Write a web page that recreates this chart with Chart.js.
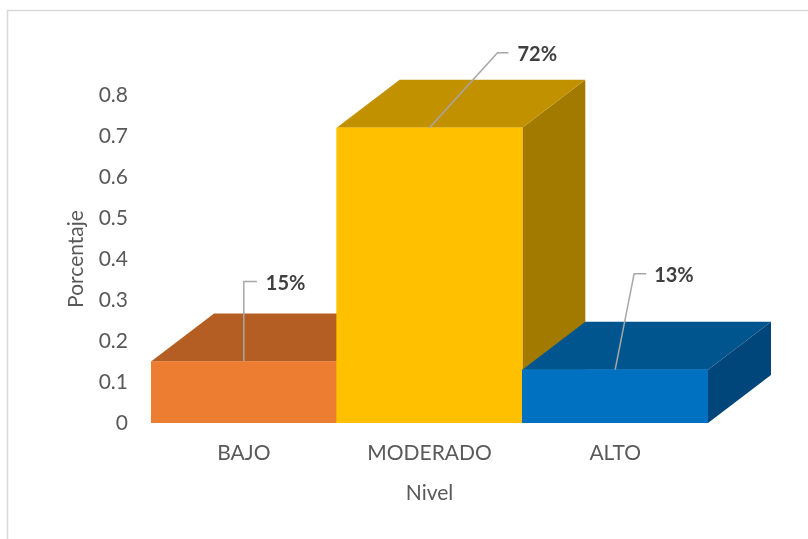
<!DOCTYPE html>
<html>
<head>
<meta charset="utf-8">
<script src="https://cdn.jsdelivr.net/npm/chart.js@4.4.1/dist/chart.umd.min.js"></script>
<style>
  html, body { margin: 0; padding: 0; background: #fff; }
  #wrap { width: 808px; height: 539px; }
</style>
</head>
<body>
<div id="wrap"><canvas id="nivelChart" width="808" height="539"></canvas></div>
<script>
// levels and their share
const niveles = ['BAJO', 'MODERADO', 'ALTO'];
const porcentajes = [0.15, 0.72, 0.13];
const yMax = 0.8;
const yStep = 0.1;

// face colours: front / top / right side
const frontColors = ['#ED7D31', '#FFC000', '#0070C0'];
const topColors = ['#B55E23', '#C29100', '#00558F'];
const sideColors = ['#9A4F1D', '#A37A00', '#00467A'];

// depth of the extruded boxes
const DEPTH_X = 63;
const DEPTH_Y = -48;

// leader line geometry for each value label: elbow, end of line, text start
const labelOffsets = [
    { ex: 0, ey: -80, hx: 13, tx: 22 },
    { ex: 68, ey: -75, hx: 79, tx: 88 },
    { ex: 19, ey: -96, hx: 31, tx: 39 }
];

const FONT = "Lato, 'Open Sans', sans-serif";
const TEXT_COLOR = '#595959';

const frame = {
    id: 'frame',
    beforeDraw(chart) {
        const ctx = chart.ctx;
        ctx.save();
        ctx.fillStyle = '#fff';
        ctx.fillRect(0, 0, chart.width, chart.height);
        ctx.strokeStyle = '#D9D9D9';
        ctx.lineWidth = 1.5;
        ctx.strokeRect(7.5, 10.5, chart.width + 20, chart.height + 20);
        ctx.restore();
    }
};

// top and side faces go under the front faces that chart.js draws
const boxes3d = {
    id: 'boxes3d',
    beforeDatasetsDraw(chart) {
        const ctx = chart.ctx;
        const meta = chart.getDatasetMeta(0);
        ctx.save();
        meta.data.forEach((bar, i) => {
            const { x, y, base, width } = bar.getProps(['x', 'y', 'base', 'width'], true);
            const l = x - width / 2, r = x + width / 2;
            // side
            ctx.fillStyle = sideColors[i];
            ctx.beginPath();
            ctx.moveTo(r, y);
            ctx.lineTo(r + DEPTH_X, y + DEPTH_Y);
            ctx.lineTo(r + DEPTH_X, base + DEPTH_Y);
            ctx.lineTo(r, base);
            ctx.closePath();
            ctx.fill();
            // top
            ctx.fillStyle = topColors[i];
            ctx.beginPath();
            ctx.moveTo(l, y);
            ctx.lineTo(l + DEPTH_X, y + DEPTH_Y);
            ctx.lineTo(r + DEPTH_X, y + DEPTH_Y);
            ctx.lineTo(r, y);
            ctx.closePath();
            ctx.fill();
        });
        ctx.restore();
    },
    afterDatasetsDraw(chart) {
        const ctx = chart.ctx;
        const meta = chart.getDatasetMeta(0);
        ctx.save();
        meta.data.forEach((bar, i) => {
            const { x, y } = bar.getProps(['x', 'y'], true);
            const o = labelOffsets[i];
            ctx.strokeStyle = '#A6A6A6';
            ctx.lineWidth = 1.5;
            ctx.beginPath();
            ctx.moveTo(x, y);
            ctx.lineTo(x + o.ex, y + o.ey);
            ctx.lineTo(x + o.hx, y + o.ey);
            ctx.stroke();
            ctx.fillStyle = '#404040';
            ctx.font = 'bold 20px ' + FONT;
            ctx.textAlign = 'left';
            ctx.textBaseline = 'middle';
            ctx.fillText(Math.round(porcentajes[i] * 100) + '%', x + o.tx, y + o.ey + 2);
        });
        ctx.restore();
    }
};

new Chart(document.getElementById('nivelChart'), {
    type: 'bar',
    data: {
        labels: niveles,
        datasets: [{
            data: porcentajes,
            backgroundColor: frontColors,
            borderWidth: 0,
            categoryPercentage: 1,
            barPercentage: 1
        }]
    },
    options: {
        responsive: false,
        animation: false,
        layout: { padding: { top: 95, right: 100, bottom: 0, left: 0 } },
        plugins: {
            legend: { display: false },
            tooltip: { enabled: false }
        },
        scales: {
            y: {
                min: 0,
                max: yMax,
                grid: { display: false, drawTicks: false },
                border: { display: false },
                ticks: {
                    stepSize: yStep,
                    padding: 23,
                    color: TEXT_COLOR,
                    font: { family: FONT, size: 21 },
                    callback: v => String(+v.toFixed(1))
                },
                title: {
                    display: true,
                    text: 'Porcentaje',
                    color: TEXT_COLOR,
                    font: { family: FONT, size: 21 },
                    padding: { top: 64 }
                },
                afterFit(scale) { scale.width = 151; }
            },
            x: {
                grid: { display: false, drawTicks: false },
                border: { display: false },
                ticks: {
                    padding: 18,
                    color: TEXT_COLOR,
                    font: { family: FONT, size: 21 }
                },
                title: {
                    display: true,
                    text: 'Nivel',
                    color: TEXT_COLOR,
                    font: { family: FONT, size: 21 },
                    padding: { bottom: 33 }
                },
                afterFit(scale) { scale.height = 116; }
            }
        }
    },
    plugins: [frame, boxes3d]
});
</script>
</body>
</html>
